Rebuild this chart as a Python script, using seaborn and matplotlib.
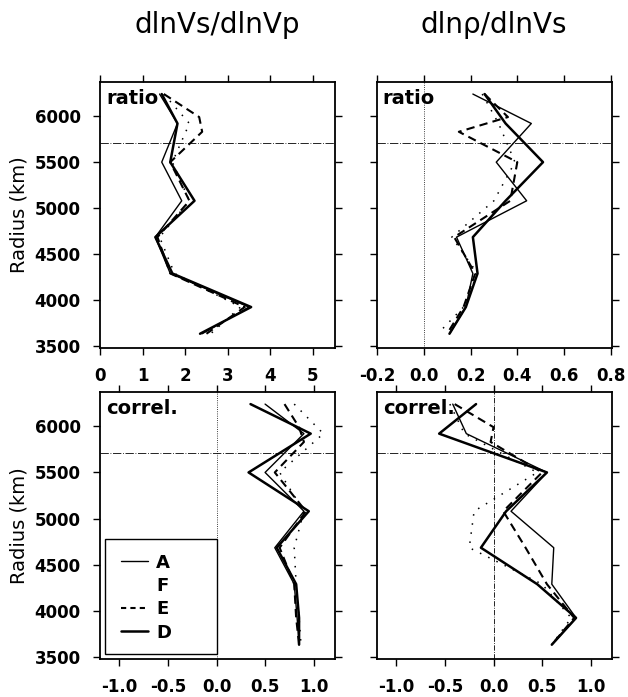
import numpy as np
import pandas as pd
import matplotlib
matplotlib.use("Agg")
import matplotlib.pyplot as plt
from matplotlib.lines import Line2D
from matplotlib.patches import Rectangle
import seaborn as sns

# ---------------- data ----------------
models = ["A", "F", "E", "D"]
r_std = [6240, 5920, 5500, 5080, 4685, 4290, 3925, 3635]
r_E = [6240, 5990, 5830, 5500, 5080, 4685, 4290, 3925, 3635]

# dlnVs/dlnVp ratio
vsvp_ratio_A = [1.40, 1.82, 1.45, 1.92, 1.30, 1.65, 3.50, 2.40]
vsvp_ratio_F = [1.50, 2.10, 1.70, 2.10, 1.40, 1.75, 3.30, 2.60]
vsvp_ratio_E = [1.50, 2.33, 2.40, 1.65, 2.10, 1.35, 1.65, 3.40, 2.50]
vsvp_ratio_D = [1.45, 1.82, 1.65, 2.22, 1.30, 1.70, 3.55, 2.35]

# dlnrho/dlnVs ratio
rhovs_ratio_A = [0.21, 0.46, 0.31, 0.44, 0.14, 0.21, 0.18, 0.11]
rhovs_ratio_F = [0.25, 0.32, 0.39, 0.30, 0.12, 0.23, 0.17, 0.06]
rhovs_ratio_E = [0.26, 0.36, 0.15, 0.40, 0.37, 0.13, 0.22, 0.17, 0.10]
rhovs_ratio_D = [0.26, 0.35, 0.51, 0.35, 0.21, 0.23, 0.18, 0.11]

# dlnVs/dlnVp correlation
vsvp_corr_A = [0.50, 0.90, 0.50, 0.90, 0.60, 0.80, 0.83, 0.85]
vsvp_corr_F = [0.80, 1.10, 0.65, 0.90, 0.80, 0.82, 0.85, 0.87]
vsvp_corr_E = [0.70, 0.85, 0.90, 0.60, 0.92, 0.65, 0.80, 0.82, 0.85]
vsvp_corr_D = [0.35, 0.97, 0.33, 0.95, 0.62, 0.82, 0.85, 0.85]

# dlnrho/dlnVs correlation
rhovs_corr_A = [-0.42, -0.28, 0.55, 0.18, 0.62, 0.60, 0.85, 0.60]
rhovs_corr_F = [-0.45, -0.30, 0.45, -0.20, -0.25, 0.50, 0.80, 0.60]
rhovs_corr_E = [-0.40, 0.00, -0.03, 0.50, 0.10, 0.33, 0.55, 0.83, 0.60]
rhovs_corr_D = [-0.18, -0.56, 0.55, 0.13, -0.13, 0.45, 0.85, 0.60]

titles = ["dlnVs/dlnVp", "dlnρ/dlnVs"]
panel_labels = ["ratio", "correl."]
yticks = [3500, 4000, 4500, 5000, 5500, 6000]
r_660 = 5711

# ---------------- style ----------------
sns.set_theme(style="ticks")
plt.rcParams["font.family"] = ["DejaVu Sans"]
plt.rcParams["text.color"] = "black"
plt.rcParams["axes.labelcolor"] = "black"
plt.rcParams["xtick.color"] = "black"
plt.rcParams["ytick.color"] = "black"

styles = {
    "A": dict(lw=1.0, ls="-"),
    "F": dict(lw=1.1, ls=(0, (1, 5))),
    "E": dict(lw=1.5, ls=(0, (4, 2.5))),
    "D": dict(lw=1.8, ls="-"),
}

W, H = 628, 697
fig = plt.figure(figsize=(W / 100, H / 100), dpi=100)


def ax_rect(x0, y0, x1, y1):
    return [x0 / W, (H - y1) / H, (x1 - x0) / W, (y1 - y0) / H]


ax_tl = fig.add_axes(ax_rect(100, 82, 335, 348))
ax_tr = fig.add_axes(ax_rect(377, 82, 612, 348))
ax_bl = fig.add_axes(ax_rect(100, 392, 335, 659))
ax_br = fig.add_axes(ax_rect(377, 392, 612, 659))

panels = [
    (ax_tl, [vsvp_ratio_A, vsvp_ratio_F, vsvp_ratio_E, vsvp_ratio_D], (0, 5.52),
     [0, 1, 2, 3, 4, 5], ["0", "1", "2", "3", "4", "5"], None, panel_labels[0]),
    (ax_tr, [rhovs_ratio_A, rhovs_ratio_F, rhovs_ratio_E, rhovs_ratio_D], (-0.2, 0.805),
     [-0.2, 0.0, 0.2, 0.4, 0.6, 0.8], ["-0.2", "0.0", "0.2", "0.4", "0.6", "0.8"], ":", panel_labels[0]),
    (ax_bl, [vsvp_corr_A, vsvp_corr_F, vsvp_corr_E, vsvp_corr_D], (-1.2, 1.22),
     [-1.0, -0.5, 0.0, 0.5, 1.0], ["-1.0", "-0.5", "0.0", "0.5", "1.0"], ":", panel_labels[1]),
    (ax_br, [rhovs_corr_A, rhovs_corr_F, rhovs_corr_E, rhovs_corr_D], (-1.2, 1.22),
     [-1.0, -0.5, 0.0, 0.5, 1.0], ["-1.0", "-0.5", "0.0", "0.5", "1.0"], "-.", panel_labels[1]),
]

for ax, series, xlim, xt, xtl, vstyle, plabel in panels:
    for name, vals in zip(models, series):
        rr = r_E if name == "E" else r_std
        df = pd.DataFrame({"value": vals, "radius": rr})
        st = styles[name]
        sns.lineplot(data=df, x="value", y="radius", sort=False, estimator=None,
                     ax=ax, color="black", linewidth=st["lw"], linestyle=st["ls"])
    ax.axhline(r_660, color="black", lw=0.6, ls=(0, (10, 2, 1, 2)), zorder=1)
    if vstyle is not None:
        ax.axvline(0, color="black", lw=0.6, ls=vstyle, zorder=1)
    ax.set_xlim(*xlim)
    ax.set_ylim(3480, 6371)
    ax.set_xticks(xt)
    ax.set_xticklabels(xtl)
    ax.set_yticks(yticks)
    ax.set_xlabel("")
    ax.set_ylabel("")
    ax.tick_params(direction="out", length=5, width=1.0, top=True, right=True,
                   labelsize=12, pad=9, colors="black")
    for lab in ax.get_xticklabels() + ax.get_yticklabels():
        lab.set_fontweight("bold")
        lab.set_color("black")
    for sp in ax.spines.values():
        sp.set_visible(True)
        sp.set_linewidth(1.3)
        sp.set_color("black")
    ax.text(0.025, 0.975, plabel, transform=ax.transAxes, ha="left", va="top",
            fontsize=14, fontweight="bold", color="black")
    ax.grid(False)

for ax in (ax_tr, ax_br):
    ax.set_yticklabels([])

for ax in (ax_tl, ax_bl):
    ax.set_ylabel("Radius (km)", fontsize=14, labelpad=4, color="black")

fig.text(217 / W, 1 - 25 / H, titles[0], ha="center", va="center", fontsize=20, color="black")
fig.text(494 / W, 1 - 25 / H, titles[1], ha="center", va="center", fontsize=20, color="black")

# legend in bottom-left panel
ax_bl.add_patch(Rectangle((0.021, 0.019), 0.476, 0.429, transform=ax_bl.transAxes,
                          fill=False, lw=1.0, ec="black", zorder=5))
handles = [
    Line2D([], [], color="black", lw=1.0, ls="-"),
    Line2D([], [], color="black", lw=0, ls="none"),
    Line2D([], [], color="black", lw=1.5, ls=(0, (2.5, 2))),
    Line2D([], [], color="black", lw=1.8, ls="-"),
]
leg = ax_bl.legend(handles, models, loc="upper left", bbox_to_anchor=(0.089, 0.395),
                   frameon=False, borderpad=0, borderaxespad=0, handlelength=1.5,
                   handletextpad=0.45, labelspacing=0.3,
                   prop={"weight": "bold", "size": 13})
for t in leg.get_texts():
    t.set_color("black")

fig.savefig("out.png", dpi=100)
